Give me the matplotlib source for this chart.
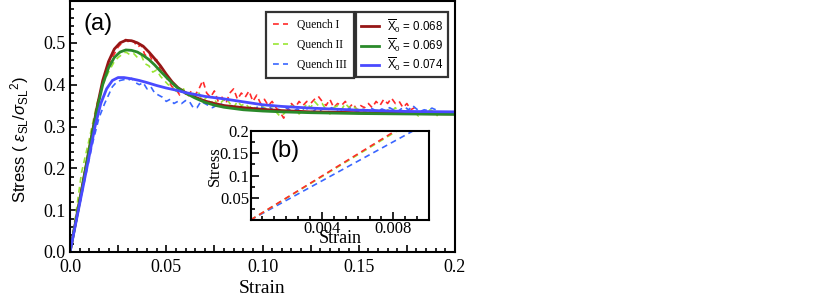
import matplotlib
matplotlib.use("Agg")
import matplotlib.pyplot as plt
from matplotlib.ticker import MultipleLocator, FixedLocator, FuncFormatter

plt.rcParams['mathtext.fontset'] = 'custom'
plt.rcParams['mathtext.rm'] = 'Liberation Sans'
plt.rcParams['mathtext.it'] = 'Liberation Sans:italic'
plt.rcParams['mathtext.bf'] = 'Liberation Sans:bold'

# ---------------- data ----------------
fit_labels = [r"$\overline{\mathrm{X}}_{0}$ = 0.068",
              r"$\overline{\mathrm{X}}_{0}$ = 0.069",
              r"$\overline{\mathrm{X}}_{0}$ = 0.074"]
quench_labels = ["Quench I", "Quench II", "Quench III"]

fit1_x = [0, 0.005, 0.010, 0.014, 0.017, 0.020, 0.023, 0.026, 0.029, 0.032, 0.035, 0.038, 0.041,
          0.044, 0.047, 0.050, 0.053, 0.056, 0.060, 0.065, 0.070, 0.075, 0.080, 0.090, 0.100,
          0.110, 0.125, 0.150, 0.175, 0.200]
fit1_y = [0, 0.123, 0.247, 0.345, 0.410, 0.455, 0.485, 0.500, 0.506, 0.505, 0.500, 0.492, 0.478,
          0.462, 0.445, 0.425, 0.407, 0.393, 0.381, 0.370, 0.361, 0.355, 0.350, 0.345, 0.341,
          0.338, 0.335, 0.333, 0.331, 0.330]

fit2_x = fit1_x
fit2_y = [0, 0.120, 0.245, 0.340, 0.400, 0.440, 0.465, 0.478, 0.483, 0.482, 0.478, 0.470, 0.460,
          0.447, 0.432, 0.418, 0.404, 0.392, 0.380, 0.368, 0.358, 0.351, 0.346, 0.340, 0.337,
          0.335, 0.333, 0.331, 0.330, 0.329]

fit3_x = [0, 0.005, 0.010, 0.013, 0.016, 0.019, 0.022, 0.025, 0.028, 0.032, 0.036, 0.040, 0.045,
          0.050, 0.055, 0.060, 0.070, 0.080, 0.090, 0.100, 0.110, 0.125, 0.150, 0.175, 0.200]
fit3_y = [0, 0.115, 0.230, 0.300, 0.355, 0.390, 0.410, 0.417, 0.417, 0.414, 0.410, 0.405, 0.398,
          0.392, 0.387, 0.381, 0.372, 0.366, 0.359, 0.352, 0.348, 0.344, 0.339, 0.336, 0.335]

q1_x = [0, 0.004, 0.008, 0.012, 0.016, 0.019, 0.022, 0.025, 0.027, 0.029, 0.031, 0.033, 0.035,
        0.037, 0.039, 0.041, 0.043, 0.045, 0.047, 0.049, 0.051, 0.053, 0.055, 0.057, 0.059,
        0.061, 0.063, 0.065, 0.067, 0.069, 0.071, 0.073, 0.075, 0.077, 0.079, 0.081, 0.083,
        0.085, 0.087, 0.089, 0.091, 0.093, 0.095, 0.097, 0.099, 0.101, 0.103, 0.105, 0.107,
        0.109, 0.111, 0.113, 0.115, 0.117, 0.119, 0.121, 0.123, 0.125, 0.127, 0.129, 0.131,
        0.133, 0.135, 0.137, 0.139, 0.141, 0.143, 0.145, 0.147, 0.149, 0.151, 0.153, 0.155,
        0.157, 0.159, 0.161, 0.163, 0.165, 0.167, 0.169, 0.171, 0.173, 0.175, 0.177, 0.179]
q1_y = [0, 0.100, 0.200, 0.295, 0.385, 0.430, 0.465, 0.490, 0.500, 0.508, 0.500, 0.505, 0.490,
        0.495, 0.470, 0.475, 0.455, 0.460, 0.435, 0.425, 0.410, 0.395, 0.390, 0.375, 0.385,
        0.370, 0.385, 0.375, 0.390, 0.410, 0.380, 0.370, 0.385, 0.360, 0.370, 0.355, 0.380,
        0.390, 0.365, 0.380, 0.370, 0.385, 0.360, 0.375, 0.355, 0.365, 0.350, 0.360, 0.345,
        0.335, 0.320, 0.340, 0.355, 0.345, 0.360, 0.350, 0.360, 0.355, 0.365, 0.372, 0.360,
        0.350, 0.365, 0.345, 0.355, 0.350, 0.360, 0.345, 0.355, 0.340, 0.350, 0.345, 0.355,
        0.345, 0.360, 0.350, 0.365, 0.355, 0.368, 0.355, 0.360, 0.345, 0.355, 0.340, 0.345]

q2_x = [0, 0.003, 0.006, 0.010, 0.014, 0.017, 0.020, 0.023, 0.025, 0.027, 0.029, 0.031, 0.033,
        0.035, 0.037, 0.039, 0.041, 0.043, 0.045, 0.047, 0.049, 0.051, 0.053, 0.055, 0.057,
        0.059, 0.061, 0.063, 0.065, 0.067, 0.069, 0.071, 0.073, 0.075, 0.077, 0.079, 0.081,
        0.083, 0.085, 0.087, 0.089, 0.091, 0.093, 0.095, 0.097, 0.099, 0.101, 0.103, 0.105,
        0.107, 0.109, 0.111, 0.113, 0.115, 0.117, 0.119, 0.121, 0.123, 0.125, 0.127, 0.129,
        0.131, 0.133, 0.135, 0.137, 0.139, 0.141, 0.143, 0.145, 0.147, 0.149, 0.151, 0.153,
        0.155, 0.157, 0.159, 0.161, 0.163, 0.165, 0.167, 0.169, 0.171, 0.173, 0.175, 0.177,
        0.179, 0.181, 0.183, 0.185, 0.187, 0.189, 0.191]
q2_y = [0, 0.090, 0.190, 0.270, 0.355, 0.400, 0.430, 0.455, 0.465, 0.472, 0.478, 0.472, 0.475,
        0.465, 0.470, 0.450, 0.445, 0.430, 0.435, 0.420, 0.410, 0.400, 0.395, 0.385, 0.380,
        0.390, 0.375, 0.385, 0.370, 0.380, 0.360, 0.370, 0.355, 0.365, 0.350, 0.360, 0.370,
        0.355, 0.345, 0.360, 0.350, 0.355, 0.345, 0.350, 0.340, 0.350, 0.345, 0.340, 0.350,
        0.335, 0.325, 0.330, 0.340, 0.350, 0.345, 0.330, 0.340, 0.355, 0.345, 0.360, 0.350,
        0.355, 0.340, 0.330, 0.345, 0.350, 0.340, 0.355, 0.345, 0.350, 0.340, 0.345, 0.335,
        0.340, 0.330, 0.340, 0.335, 0.330, 0.340, 0.335, 0.345, 0.335, 0.330, 0.340, 0.330,
        0.335, 0.325, 0.335, 0.330, 0.340, 0.335, 0.325]

q3_x = [0, 0.004, 0.008, 0.012, 0.015, 0.018, 0.020, 0.022, 0.024, 0.026, 0.028, 0.030, 0.032,
        0.034, 0.036, 0.038, 0.040, 0.042, 0.044, 0.046, 0.048, 0.050, 0.052, 0.054, 0.056,
        0.058, 0.060, 0.062, 0.064, 0.066, 0.068, 0.070, 0.072, 0.074, 0.076, 0.078, 0.080,
        0.082, 0.084, 0.086, 0.088, 0.090, 0.092, 0.094, 0.096, 0.098, 0.100, 0.102, 0.104,
        0.106, 0.108, 0.110, 0.112, 0.114, 0.116, 0.118, 0.120, 0.122, 0.124, 0.126, 0.128,
        0.130, 0.132, 0.134, 0.136, 0.138, 0.140, 0.142, 0.144, 0.146, 0.148, 0.150, 0.152,
        0.154, 0.156, 0.158, 0.160, 0.162, 0.164, 0.166, 0.168, 0.170, 0.172, 0.174, 0.176,
        0.178, 0.180, 0.182, 0.184, 0.186, 0.188, 0.190]
q3_y = [0, 0.090, 0.180, 0.265, 0.320, 0.355, 0.375, 0.395, 0.405, 0.410, 0.412, 0.410, 0.415,
        0.405, 0.400, 0.405, 0.390, 0.395, 0.380, 0.375, 0.370, 0.360, 0.365, 0.355, 0.360,
        0.355, 0.362, 0.360, 0.345, 0.345, 0.360, 0.355, 0.350, 0.345, 0.350, 0.355, 0.350,
        0.345, 0.350, 0.340, 0.345, 0.350, 0.340, 0.345, 0.340, 0.350, 0.345, 0.340, 0.345,
        0.338, 0.343, 0.335, 0.345, 0.340, 0.336, 0.342, 0.338, 0.345, 0.340, 0.335, 0.342,
        0.338, 0.333, 0.340, 0.345, 0.338, 0.342, 0.336, 0.340, 0.345, 0.338, 0.335, 0.342,
        0.338, 0.345, 0.340, 0.336, 0.342, 0.338, 0.345, 0.340, 0.335, 0.342, 0.346, 0.340,
        0.350, 0.342, 0.336, 0.340, 0.338, 0.344, 0.340]

# inset (b) data: initial elastic part
in1_x = [0, 0.0081]
in1_y = [0, 0.200]
in2_x = [0, 0.0082]
in2_y = [0, 0.200]
in3_x = [0, 0.0091]
in3_y = [0, 0.200]

main_xticks = [0.0, 0.05, 0.10, 0.15, 0.2]
main_xticklabels = ["0.0", "0.05", "0.10", "0.15", "0.2"]
main_yticks = [0.0, 0.1, 0.2, 0.3, 0.4, 0.5]
main_yticklabels = ["0.0", "0.1", "0.2", "0.3", "0.4", "0.5"]
inset_xticks = [0.004, 0.008]
inset_xticklabels = ["0.004", "0.008"]
inset_yticks = [0.05, 0.1, 0.15, 0.2]
inset_yticklabels = ["0.05", "0.1", "0.15", "0.2"]

# ---------------- style ----------------
c_q1, c_q2, c_q3 = "#ff2a2a", "#99e633", "#3a66ff"
c_f1, c_f2, c_f3 = "#961616", "#2a8a2a", "#4a4aff"
serif = "Liberation Serif"
sans = "Liberation Sans"

fig = plt.figure(figsize=(8.31, 3.0), dpi=100)
ax = fig.add_axes([70 / 831, 48 / 300, 385 / 831, 251 / 300])

dash = (0, (3.5, 2.5))
lq1, = ax.plot(q1_x, q1_y, color=c_q1, lw=1.2, ls=dash)
lq2, = ax.plot(q2_x, q2_y, color=c_q2, lw=1.2, ls=dash)
lq3, = ax.plot(q3_x, q3_y, color=c_q3, lw=1.2, ls=dash)
lf1, = ax.plot(fit1_x, fit1_y, color=c_f1, lw=2.0)
lf2, = ax.plot(fit2_x, fit2_y, color=c_f2, lw=2.0)
lf3, = ax.plot(fit3_x, fit3_y, color=c_f3, lw=2.0)

ax.set_xlim(0, 0.2)
ax.set_ylim(0, 0.6)
ax.xaxis.set_major_locator(MultipleLocator(0.025))
ax.xaxis.set_minor_locator(MultipleLocator(0.005))
lab_map = dict(zip([round(v, 3) for v in main_xticks], main_xticklabels))
ax.xaxis.set_major_formatter(FuncFormatter(lambda v, p: lab_map.get(round(v, 3), "")))
ax.yaxis.set_major_locator(FixedLocator(main_yticks))
ax.set_yticklabels(main_yticklabels)
ax.yaxis.set_minor_locator(MultipleLocator(0.02))
ax.tick_params(which="both", direction="in", top=False, right=False, width=1.2)
ax.tick_params(which="major", length=5, labelsize=13)
ax.tick_params(axis="x", which="major", pad=5)
ax.tick_params(axis="y", which="major", pad=3)
ax.tick_params(which="minor", length=3)
for lab in ax.get_xticklabels() + ax.get_yticklabels():
    lab.set_fontfamily(serif)
for s in ax.spines.values():
    s.set_linewidth(1.5)
ax.set_xlabel("Strain", fontfamily=serif, fontsize=14, labelpad=3)
ax.set_ylabel(r"Stress ( $\varepsilon_{\rm SL}/\sigma_{\rm SL}{}^{2}$)", fontfamily=sans,
              fontsize=12, labelpad=9)
ax.yaxis.label.set_y(0.446)
ax.text(0.034, 0.91, "(a)", transform=ax.transAxes, fontsize=17, fontfamily=sans,
        va="center", ha="left")

leg1 = ax.legend([lq1, lq2, lq3], quench_labels, loc="upper left",
                 bbox_to_anchor=(0.509, 0.956), borderaxespad=0, frameon=True,
                 fancybox=False, prop={"family": serif, "size": 8.3},
                 handlelength=1.35, handletextpad=0.75, labelspacing=0.7,
                 borderpad=0.6)
leg1.get_frame().set_edgecolor("black")
leg1.get_frame().set_linewidth(1.6)
ax.add_artist(leg1)
leg2 = ax.legend([lf1, lf2, lf3], fit_labels, loc="upper left",
                 bbox_to_anchor=(0.743, 0.956), borderaxespad=0, frameon=True,
                 fancybox=False, prop={"family": sans, "size": 8.3},
                 handlelength=1.6, handletextpad=0.7, labelspacing=0.1,
                 borderpad=0.4)
leg2.get_frame().set_edgecolor("black")
leg2.get_frame().set_linewidth(1.6)

# ---------------- inset ----------------
axi = fig.add_axes([250.5 / 831, 80 / 300, 178.5 / 831, 89 / 300])
axi.plot(in3_x, in3_y, color=c_q3, lw=1.2, ls=dash)
axi.plot(in2_x, in2_y, color=c_q2, lw=1.2, ls=dash)
axi.plot(in1_x, in1_y, color=c_q1, lw=1.2, ls=dash)
axi.set_xlim(0, 0.01)
axi.set_ylim(0, 0.2)
axi.xaxis.set_major_locator(FixedLocator(inset_xticks))
axi.set_xticklabels(inset_xticklabels)
axi.xaxis.set_minor_locator(MultipleLocator(0.004 / 6))
axi.yaxis.set_major_locator(FixedLocator(inset_yticks))
axi.set_yticklabels(inset_yticklabels)
axi.yaxis.set_minor_locator(MultipleLocator(0.025))
axi.tick_params(which="both", direction="in", top=False, right=False, width=1.2)
axi.tick_params(which="major", length=6, pad=1, labelsize=12)
axi.tick_params(which="minor", length=3)
for lab in axi.get_xticklabels() + axi.get_yticklabels():
    lab.set_fontfamily(serif)
for s in axi.spines.values():
    s.set_linewidth(1.5)
axi.set_xlabel("Strain", fontfamily=serif, fontsize=13, labelpad=-5)
axi.set_ylabel("Stress", fontfamily=serif, fontsize=12, labelpad=-2)
axi.yaxis.label.set_y(0.6)
axi.text(0.11, 0.78, "(b)", transform=axi.transAxes, fontsize=17, fontfamily=sans,
         va="center", ha="left")

fig.savefig("out.png", dpi=100)
